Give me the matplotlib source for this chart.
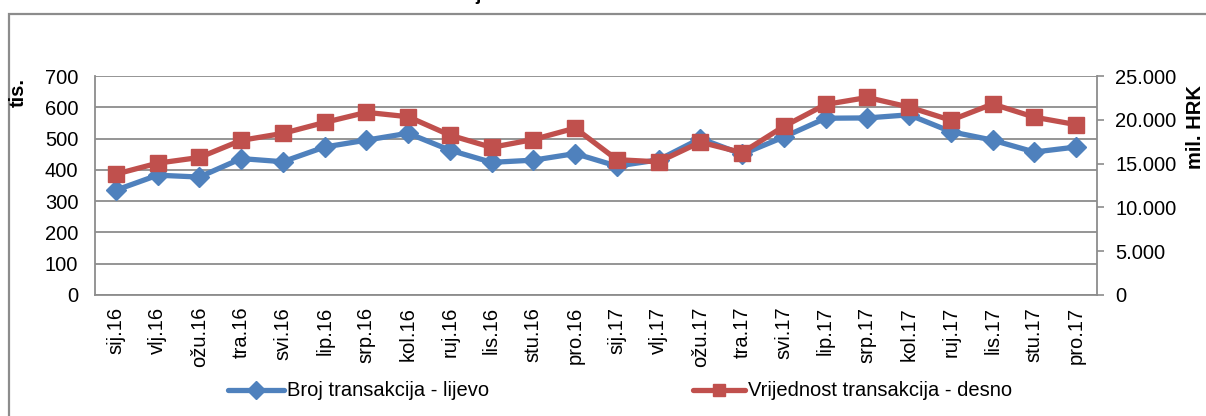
import matplotlib
matplotlib.use('Agg')
import matplotlib.pyplot as plt
from matplotlib.patches import Rectangle
from matplotlib.lines import Line2D

plt.rcParams['font.family'] = ['Liberation Sans', 'DejaVu Sans']

# Podaci
mjeseci = ['sij.16', 'vlj.16', 'ožu.16', 'tra.16', 'svi.16', 'lip.16', 'srp.16', 'kol.16',
           'ruj.16', 'lis.16', 'stu.16', 'pro.16', 'sij.17', 'vlj.17', 'ožu.17', 'tra.17',
           'svi.17', 'lip.17', 'srp.17', 'kol.17', 'ruj.17', 'lis.17', 'stu.17', 'pro.17']
broj = [335, 383, 377, 436, 426, 473, 495, 517, 463, 424, 431, 452,
        412, 432, 500, 450, 505, 565, 566, 576, 522, 495, 457, 473]
vrijednost = [13800, 15050, 15700, 17650, 18450, 19700, 20850, 20350, 18250, 16850, 17750, 19050,
              15450, 15200, 17450, 16250, 19250, 21750, 22550, 21450, 19950, 21800, 20300, 19450]
lijeve_oznake = [0, 100, 200, 300, 400, 500, 600, 700]
desne_oznake = [0, 5000, 10000, 15000, 20000, 25000]

plava = '#4F81BD'
crvena = '#C0504D'
siva = '#8C8C8C'
fs = 14.5

W, H = 1206, 416
fig = plt.figure(figsize=(W / 100, H / 100), dpi=100)

# okvir grafikona
fig.patches.append(Rectangle((8.5 / W, -0.1), 1.2, 1 - 13.5 / H + 0.1, transform=fig.transFigure,
                             fill=False, edgecolor=siva, linewidth=1.6))
# ostatak naslova (odrezan na vrhu slike)
fig.text(478 / W, 1.0, 'j', ha='center', va='baseline', fontsize=14, fontweight='bold')

ax = fig.add_axes([95 / W, 1 - 295 / H, (1097 - 95) / W, (295 - 76) / H])
ax2 = ax.twinx()

x = list(range(len(mjeseci)))
ax.plot(x, broj, color=plava, linewidth=3.8, marker='D', markersize=10, zorder=3)
ax2.plot(x, vrijednost, color=crvena, linewidth=3.8, marker='s', markersize=12, zorder=3)

ax.set_xlim(-0.5, len(mjeseci) - 0.5)
ax.set_ylim(0, 700)
ax2.set_ylim(0, 25000)
ax.set_yticks(lijeve_oznake)
ax.set_yticklabels([str(v) for v in lijeve_oznake], fontsize=fs)
ax2.set_yticks(desne_oznake)
ax2.set_yticklabels([f'{v:,}'.replace(',', '.') for v in desne_oznake], fontsize=fs)
ax.set_xticks(x)
ax.set_xticklabels(mjeseci, rotation=90, fontsize=fs)

ax.grid(axis='y', color=siva, linewidth=1.3)
ax.set_axisbelow(True)
ax.tick_params(axis='y', length=0, pad=12)
ax.tick_params(axis='x', length=0, pad=8.5)
ax2.tick_params(axis='y', length=5, width=1.2, color=siva, pad=8)

for a in (ax, ax2):
    for s in ['top', 'right', 'left', 'bottom']:
        a.spines[s].set_visible(False)
ax.spines['left'].set_visible(True)
ax.spines['bottom'].set_visible(True)
ax2.spines['right'].set_visible(True)
for s in ['left', 'bottom']:
    ax.spines[s].set_color(siva)
    ax.spines[s].set_linewidth(1.3)
ax2.spines['right'].set_color(siva)
ax2.spines['right'].set_linewidth(1.3)

fig.text(18 / W, 1 - 78 / H, 'tis.', rotation=90, ha='center', va='top',
         fontsize=fs, fontweight='bold')
fig.text(1186 / W, 1 - 85 / H, 'mil. HRK', rotation=90, ha='left', va='top',
         fontsize=fs, fontweight='bold')

# legenda
ly = 1 - 390 / H
fig.lines.append(Line2D([228 / W, 284 / W], [ly, ly], transform=fig.transFigure,
                        color=plava, linewidth=3.8, solid_capstyle='round'))
fig.lines.append(Line2D([256 / W], [ly], transform=fig.transFigure, color=plava,
                        marker='D', markersize=9))
fig.text(287 / W, ly, 'Broj transakcija - lijevo', va='center', fontsize=fs)
fig.lines.append(Line2D([693 / W, 745 / W], [ly, ly], transform=fig.transFigure,
                        color=crvena, linewidth=3.8, solid_capstyle='round'))
fig.lines.append(Line2D([719 / W], [ly], transform=fig.transFigure, color=crvena,
                        marker='s', markersize=9))
fig.text(748 / W, ly, 'Vrijednost transakcija - desno', va='center', fontsize=fs)

fig.savefig('out.png', dpi=100)
